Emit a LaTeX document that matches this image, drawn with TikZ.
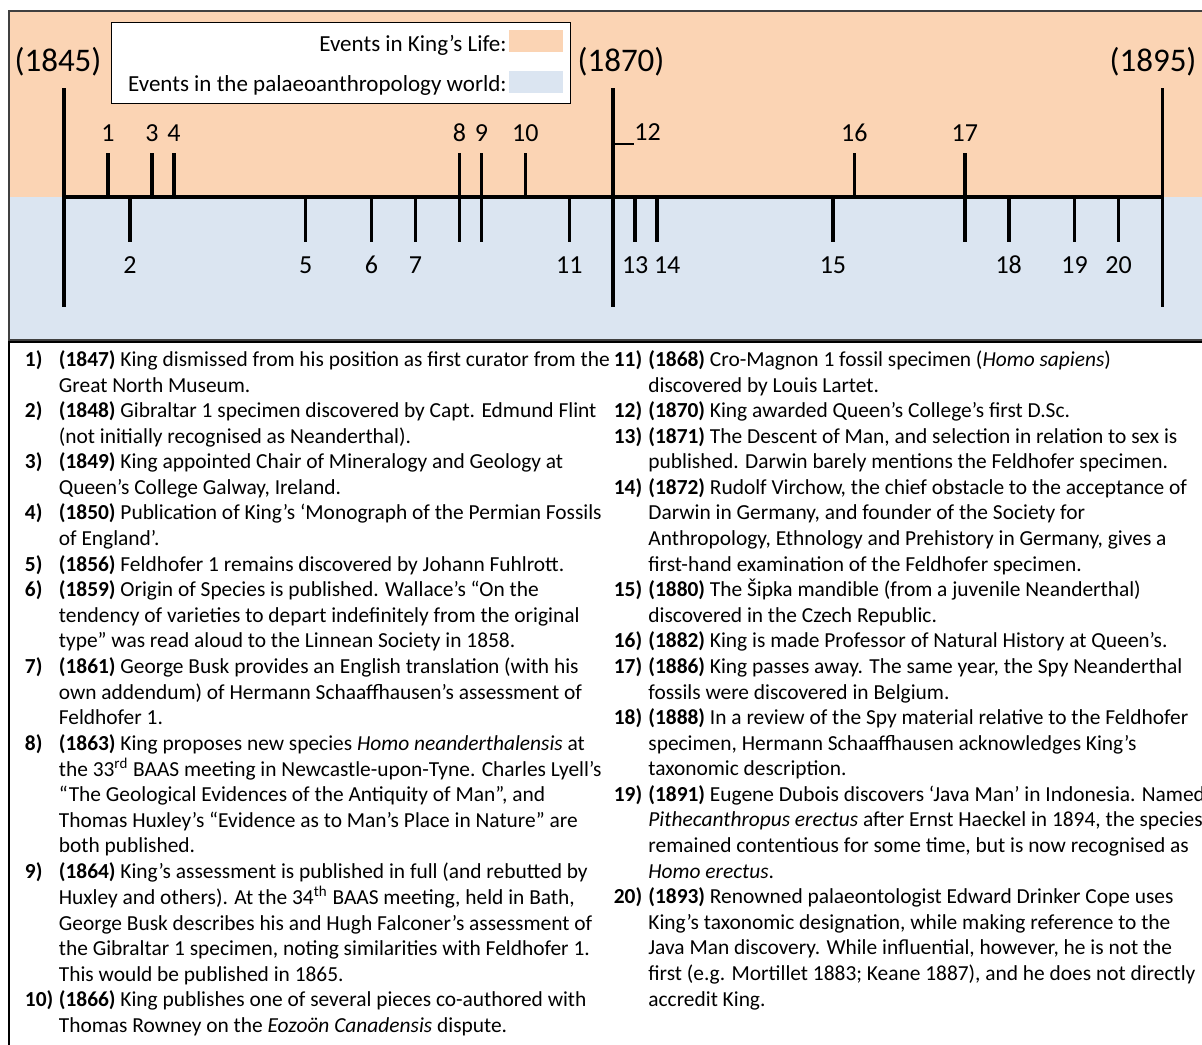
\documentclass[tikz,border=0pt]{standalone}
\usepackage{fontspec}
\setmainfont{Carlito}
\usepackage{array}
\usetikzlibrary{positioning}
\definecolor{kinglife}{HTML}{FBD4B4}
\definecolor{paleoworld}{HTML}{DBE5F1}
\newcommand{\yr}[1]{\textbf{(#1)}}
\newcommand{\no}[1]{\textbf{#1)}}

\begin{document}
\begin{tikzpicture}[x=0.5pt,y=-0.5pt,
    evtick/.style={line width=1.8pt},
    yearlbl/.style={font=\fontsize{16.5}{18}\selectfont,inner sep=0pt,anchor=base},
    numlbl/.style={font=\fontsize{13}{15}\selectfont,inner sep=0pt,anchor=base},
    legendtxt/.style={font=\fontsize{11.5}{13}\selectfont,inner sep=0pt,anchor=base east},
    coltxt/.style={font=\fontsize{10.7}{12.79}\selectfont,inner sep=0pt,anchor=base west}]
\useasboundingbox (0,0) rectangle (1202,1044);

\fill[paleoworld] (9,197) rectangle (1215,340);%下半分
\fill[kinglife] (9,11) rectangle (1215,197);%上半分
\draw[line width=0.7pt,black!75] (9,11) rectangle (1215,340);
\draw[line width=0.8pt] (9,342) rectangle (1215,1060);

\draw[fill=white,line width=0.6pt] (111.5,22.5) rectangle (570.5,103.5);%凡例
\node[legendtxt] (lgking) at (507,51) {Events in King’s Life:};
\node[legendtxt] (lgpaleo) at (507,91) {Events in the palaeoanthropology world:};
\fill[kinglife] (509,30) rectangle (563,52);
\fill[paleoworld] (509,71) rectangle (563,92.5);

\draw[line width=2.2pt] (64,197) -- (1162.5,197);%軸
\foreach \y/\lx in {1845/58,1870/621,1895/1153}{
  \draw[evtick] ({64+(\y-1845)*21.97},88) -- ({64+(\y-1845)*21.97},307);
  \node[yearlbl] (y\y) at (\lx,71.5) {(\y)};
}

\foreach \y/\n/\dx in {1847/1/0,1849/3/0,1850/4/0,1866/10/0,1882/16/-22.5}{
  \draw[evtick] ({64+(\y-1845)*21.97+\dx},153) -- ({64+(\y-1845)*21.97+\dx},197);
  \node[numlbl] (e\n) at ({64+(\y-1845)*21.97+\dx},141.5) {\n};
}
\foreach \y/\n in {1863/8,1864/9,1886/17}{
  \draw[evtick] ({64+(\y-1845)*21.97},153) -- ({64+(\y-1845)*21.97},242);
  \node[numlbl] (e\n) at ({64+(\y-1845)*21.97},141.5) {\n};
}
\foreach \y/\n/\dx in {1848/2/0,1856/5/0,1859/6/0,1861/7/0,1868/11/0,1871/13/0,
    1872/14/10,1880/15/0,1888/18/0,1891/19/0,1893/20/0}{
  \draw[evtick] ({64+(\y-1845)*21.97},197) -- ({64+(\y-1845)*21.97},242);
  \node[numlbl] (e\n) at ({64+(\y-1845)*21.97+\dx},273.3) {\n};
}
\node[numlbl,anchor=base west] (e12) at (634,140.7) {12};
\coordinate (b12) at (613.3,143.5);
\draw[line width=1pt] (b12) -- (b12 -| e12.west);

\node[coltxt] (leftcol) at (24.5,366.5) {\begin{tabular}[t]{@{}p{17pt}@{}l@{}}
\no{1} & \yr{1847} King dismissed from his position as first curator from the\\
 & Great North Museum.\\
\no{2} & \yr{1848} Gibraltar 1 specimen discovered by Capt. Edmund Flint\\
 & (not initially recognised as Neanderthal).\\
\no{3} & \yr{1849} King appointed Chair of Mineralogy and Geology at\\
 & Queen’s College Galway, Ireland.\\
\no{4} & \yr{1850} Publication of King’s ‘Monograph of the Permian Fossils\\
 & of England’.\\
\no{5} & \yr{1856} Feldhofer 1 remains discovered by Johann Fuhlrott.\\
\no{6} & \yr{1859} Origin of Species is published. Wallace’s “On the\\
 & tendency of varieties to depart indefinitely from the original\\
 & type” was read aloud to the Linnean Society in 1858.\\
\no{7} & \yr{1861} George Busk provides an English translation (with his\\
 & own addendum) of Hermann Schaaffhausen’s assessment of\\
 & Feldhofer 1.\\
\no{8} & \yr{1863} King proposes new species \textit{Homo neanderthalensis} at\\
 & the 33\textsuperscript{rd} BAAS meeting in Newcastle-upon-Tyne. Charles Lyell’s\\
 & “The Geological Evidences of the Antiquity of Man”, and\\
 & Thomas Huxley’s “Evidence as to Man’s Place in Nature” are\\
 & both published.\\
\no{9} & \yr{1864} King’s assessment is published in full (and rebutted by\\
 & Huxley and others). At the 34\textsuperscript{th} BAAS meeting, held in Bath,\\
 & George Busk describes his and Hugh Falconer’s assessment of\\
 & the Gibraltar 1 specimen, noting similarities with Feldhofer 1.\\
 & This would be published in 1865.\\
\no{10} & \yr{1866} King publishes one of several pieces co-authored with\\
 & Thomas Rowney on the \textit{Eozoön Canadensis} dispute.
\end{tabular}};

\node[coltxt] (rightcol) at (613.4,366.5) {\begin{tabular}[t]{@{}p{17.3pt}@{}l@{}}
\no{11} & \yr{1868} Cro-Magnon 1 fossil specimen (\textit{Homo sapiens})\\
 & discovered by Louis Lartet.\\
\no{12} & \yr{1870} King awarded Queen’s College’s first D.Sc.\\
\no{13} & \yr{1871} The Descent of Man, and selection in relation to sex is\\
 & published. Darwin barely mentions the Feldhofer specimen.\\
\no{14} & \yr{1872} Rudolf Virchow, the chief obstacle to the acceptance of\\
 & Darwin in Germany, and founder of the Society for\\
 & Anthropology, Ethnology and Prehistory in Germany, gives a\\
 & first-hand examination of the Feldhofer specimen.\\
\no{15} & \yr{1880} The Šipka mandible (from a juvenile Neanderthal)\\
 & discovered in the Czech Republic.\\
\no{16} & \yr{1882} King is made Professor of Natural History at Queen’s.\\
\no{17} & \yr{1886} King passes away. The same year, the Spy Neanderthal\\
 & fossils were discovered in Belgium.\\
\no{18} & \yr{1888} In a review of the Spy material relative to the Feldhofer\\
 & specimen, Hermann Schaaffhausen acknowledges King’s\\
 & taxonomic description.\\
\no{19} & \yr{1891} Eugene Dubois discovers ‘Java Man’ in Indonesia. Named\\
 & \textit{Pithecanthropus erectus} after Ernst Haeckel in 1894, the species\\
 & remained contentious for some time, but is now recognised as\\
 & \textit{Homo erectus}.\\
\no{20} & \yr{1893} Renowned palaeontologist Edward Drinker Cope uses\\
 & King’s taxonomic designation, while making reference to the\\
 & Java Man discovery. While influential, however, he is not the\\
 & first (e.g. Mortillet 1883; Keane 1887), and he does not directly\\
 & accredit King.
\end{tabular}};
\end{tikzpicture}
\end{document}
